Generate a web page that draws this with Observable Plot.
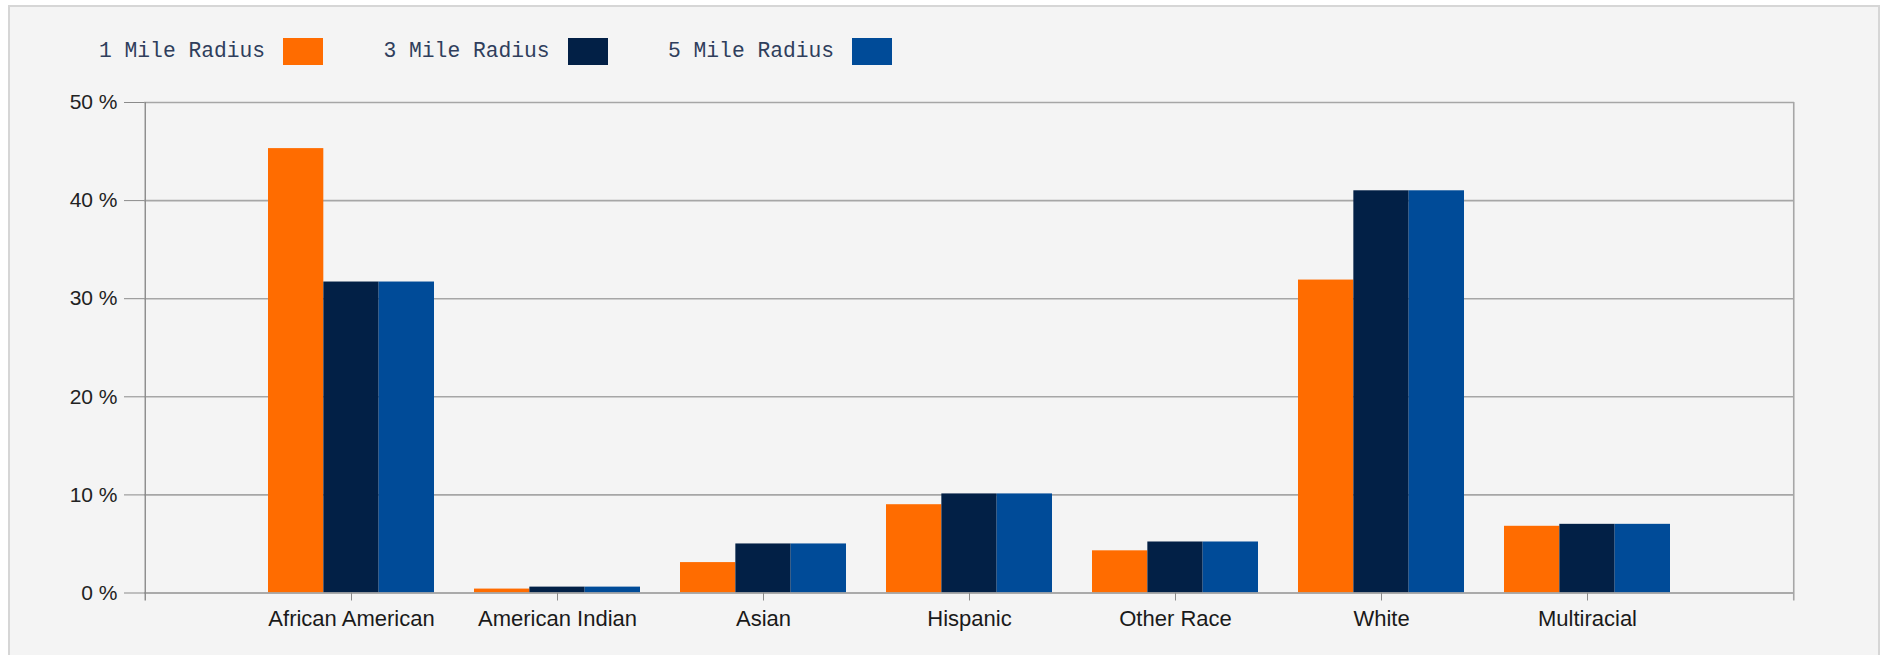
<!DOCTYPE html>
<html>
<head>
<meta charset="utf-8">
<script src="https://cdn.jsdelivr.net/npm/d3@7"></script>
<script src="https://cdn.jsdelivr.net/npm/@observablehq/plot@0.6"></script>
<style>
  html, body { margin: 0; padding: 0; background: #ffffff; }
  body { width: 1885px; height: 655px; overflow: hidden; position: relative; }
  #frame { position: absolute; left: 8px; top: 5px; width: 1872px; height: 700px;
           background: #f4f4f4; border: 2px solid #d6d6d6; box-sizing: border-box; }
  #legend { position: absolute; left: 0; top: 0; width: 1000px; height: 80px; }
  .lg-text { position: absolute; top: 38px; height: 27px; line-height: 27px;
             font-family: "Liberation Mono", "DejaVu Sans Mono", monospace; font-size: 21.3px;
             color: #2f3e5c; white-space: nowrap; }
  .lg-sw { position: absolute; top: 38px; width: 40px; height: 27px; }
  #chart { position: absolute; left: 0; top: 80px; }
</style>
</head>
<body>
<div id="frame"></div>
<div id="legend"></div>
<div id="chart"></div>
<script>
// ---- data ----
const categories = ["African American", "American Indian", "Asian", "Hispanic", "Other Race", "White", "Multiracial"];
const seriesNames = ["1 Mile Radius", "3 Mile Radius", "5 Mile Radius"];
const seriesColors = ["#ff6c00", "#022046", "#004b98"];
const mile1 = [45.3, 0.4, 3.1, 9.0, 4.3, 31.9, 6.8];
const mile3 = [31.7, 0.6, 5.0, 10.1, 5.2, 41.0, 7.0];
const mile5 = [31.7, 0.6, 5.0, 10.1, 5.2, 41.0, 7.0];
const yTicks = [0, 10, 20, 30, 40, 50];

// ---- legend ----
const legend = document.getElementById("legend");
seriesNames.forEach((name, i) => {
  const left = 99 + i * 284.5;
  const t = document.createElement("div");
  t.className = "lg-text";
  t.style.left = left + "px";
  t.textContent = name;
  legend.appendChild(t);
  const s = document.createElement("div");
  s.className = "lg-sw";
  s.style.left = (left + 184) + "px";
  s.style.background = seriesColors[i];
  legend.appendChild(s);
});

// ---- chart ----
const W = 1885, H = 575;
const mL = 144, mR = 91, mT = 22, mB = 62.5;
const pInner = 0.195, pOuter = (1 + pInner) / 2;
const step = (W - mL - mR) / (categories.length - pInner + 2 * pOuter);
const bw = step * (1 - pInner);
const third = bw / 3;

const rows = [mile1, mile3, mile5].map(vals => categories.map((c, j) => ({category: c, value: vals[j]})));
const gridColor = "#a6a6a6";
const axisColor = "#8a8a8a";
const yMax = yTicks[yTicks.length - 1];

const chart = Plot.plot({
  width: W,
  height: H,
  marginLeft: mL,
  marginRight: mR,
  marginTop: mT,
  marginBottom: mB,
  style: {background: "transparent", overflow: "visible", fontFamily: "'Liberation Sans', Arial, sans-serif"},
  x: {domain: categories, type: "band", paddingInner: pInner, paddingOuter: pOuter, label: null},
  y: {domain: [0, yMax], label: null},
  marks: [
    Plot.ruleY(yTicks, {stroke: gridColor, strokeWidth: 1.6}),
    Plot.barY(rows[0], {x: "category", y: "value", fill: seriesColors[0], insetRight: 2 * third}),
    Plot.barY(rows[1], {x: "category", y: "value", fill: seriesColors[1], insetLeft: third, insetRight: third}),
    Plot.barY(rows[2], {x: "category", y: "value", fill: seriesColors[2], insetLeft: 2 * third}),
    Plot.ruleY([0], {stroke: gridColor, strokeWidth: 1.6}),
    // left axis line (one step left of the first category centre)
    Plot.ruleX([categories[0]], {x: d => d, y1: yMax, y2: 0, dx: -step, insetBottom: -8, stroke: axisColor, strokeWidth: 1.4}),
    // right frame line (one step right of the last category centre)
    Plot.ruleX([categories[categories.length - 1]], {x: d => d, y1: yMax, y2: 0, dx: step, insetBottom: -8, stroke: gridColor, strokeWidth: 1.6}),
    Plot.axisY({ticks: yTicks, tickSize: 20, tickPadding: 7, tickFormat: d => d + " %",
                fontSize: 21, stroke: axisColor, fill: "#222", label: null}),
    Plot.axisX({tickSize: 8, tickPadding: 9, fontSize: 22, stroke: axisColor, fill: "#1a1a1a", label: null})
  ]
});
document.getElementById("chart").appendChild(chart);
</script>
</body>
</html>
